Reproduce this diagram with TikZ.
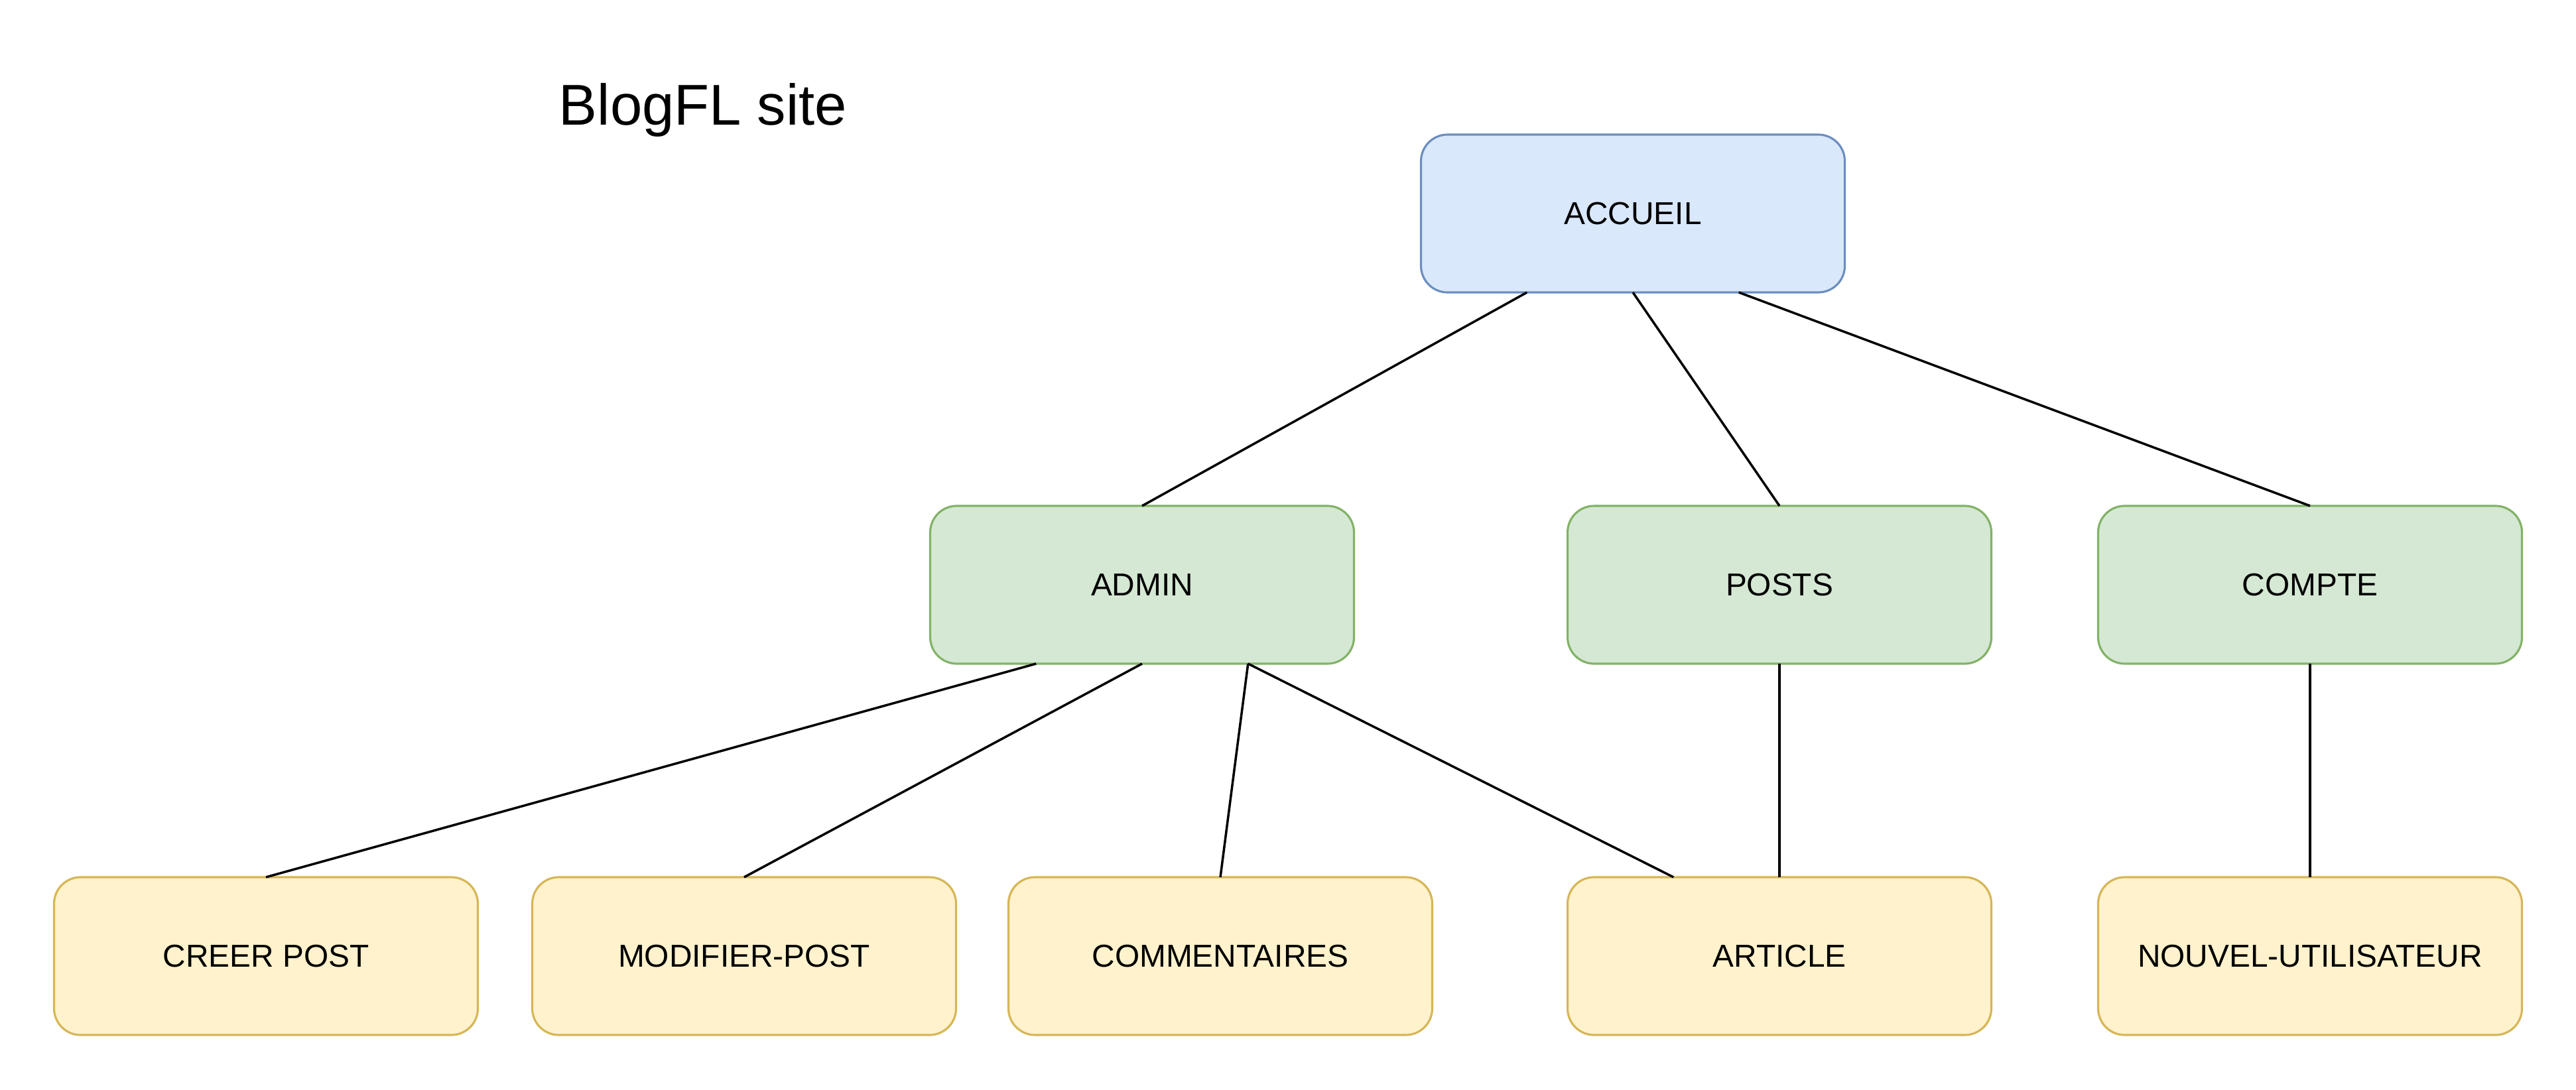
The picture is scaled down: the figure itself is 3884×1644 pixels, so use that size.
\documentclass[tikz,border=0pt]{standalone}
\usepackage{fontspec}
\setmainfont{Liberation Sans}
\usetikzlibrary{calc}
\definecolor{bluefill}{HTML}{DAE8FC}
\definecolor{bluedraw}{HTML}{6C8EBF}
\definecolor{greenfill}{HTML}{D5E8D4}
\definecolor{greendraw}{HTML}{82B366}
\definecolor{yellowfill}{HTML}{FFF2CC}
\definecolor{yellowdraw}{HTML}{D6B656}
\begin{document}
\begin{tikzpicture}[x=0.1mm,y=-0.1mm,
  page/.style={rectangle, rounded corners=4mm, minimum width=63.9mm, minimum height=23.8mm,
    inner sep=0pt, outer sep=0pt, line width=0.9pt, font=\fontsize{13.6pt}{16pt}\selectfont},
  toppage/.style={page, fill=bluefill, draw=bluedraw},
  midpage/.style={page, fill=greenfill, draw=greendraw},
  leafpage/.style={page, fill=yellowfill, draw=yellowdraw},
  link/.style={draw=black, line width=1pt}]
\useasboundingbox (0,0) rectangle (3884,1644);

\node[font=\fontsize{24.7pt}{29pt}\selectfont] (title) at (1060,166) {BlogFL site};

\node[toppage] (accueil) at (2462,322) {ACCUEIL};

\node[midpage] (admin) at (1722,882) {ADMIN};
\node[midpage] (posts) at (2683,882) {POSTS};
\node[midpage] (compte) at (3483,882) {COMPTE};

\node[leafpage] (creer) at (401,1442) {CREER POST};
\node[leafpage] (modifier) at (1122,1442) {MODIFIER-POST};
\node[leafpage] (comm) at (1840,1442) {COMMENTAIRES};
\node[leafpage] (article) at (2683,1442) {ARTICLE};
\node[leafpage] (nouvel) at (3483,1442) {NOUVEL-UTILISATEUR};

\coordinate (acL) at ($(accueil.south west)!0.25!(accueil.south east)$);
\coordinate (acR) at ($(accueil.south west)!0.75!(accueil.south east)$);
\coordinate (adL) at ($(admin.south west)!0.25!(admin.south east)$);
\coordinate (adR) at ($(admin.south west)!0.75!(admin.south east)$);
\coordinate (arL) at ($(article.north west)!0.25!(article.north east)$);

\draw[link] (acL) -- (admin.north);
\draw[link] (accueil.south) -- (posts.north);
\draw[link] (acR) -- (compte.north);
\draw[link] (adL) -- (creer.north);
\draw[link] (admin.south) -- (modifier.north);
\draw[link] (adR) -- (comm.north);
\draw[link] (adR) -- (arL);
\draw[link] (posts.south) -- (article.north);
\draw[link] (compte.south) -- (nouvel.north);
\end{tikzpicture}
\end{document}
